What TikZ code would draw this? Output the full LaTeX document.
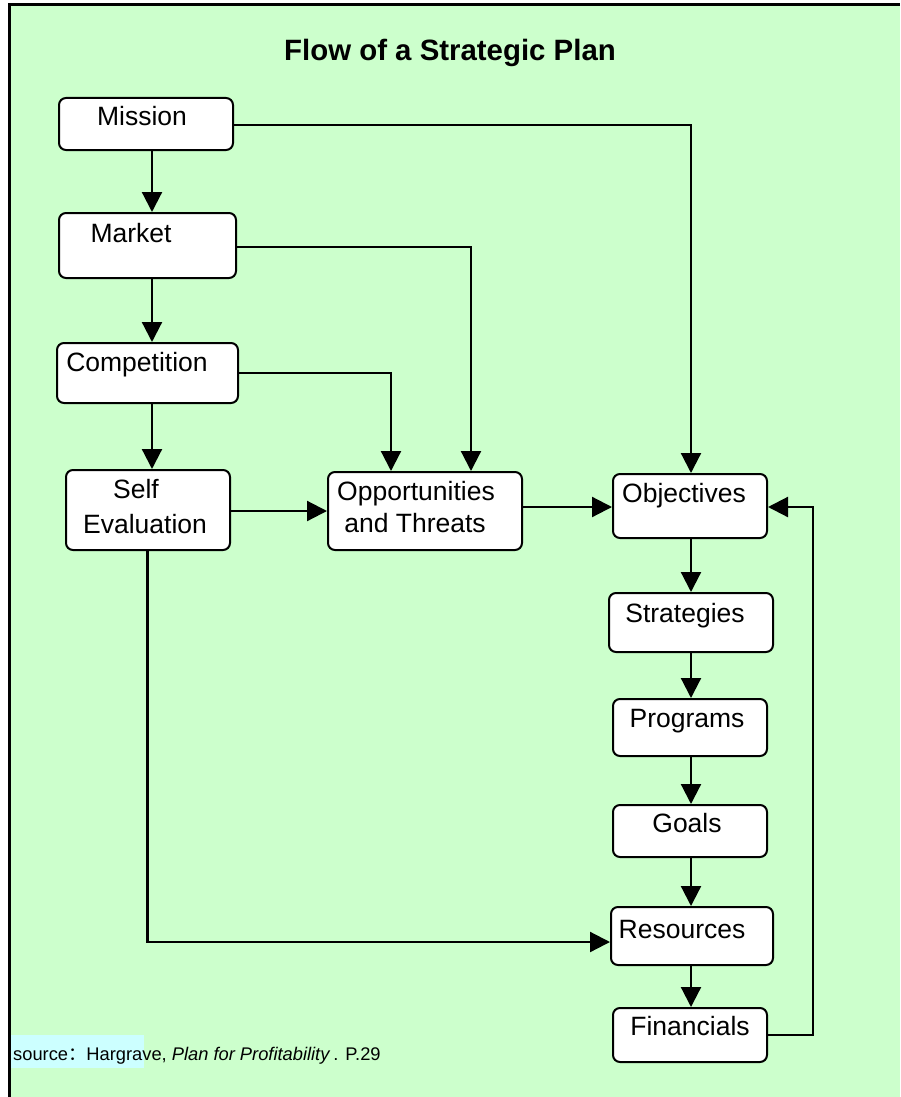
\documentclass[tikz,border=0pt]{standalone}
\usepackage{fontspec}
\setmainfont{Liberation Sans}
\newfontfamily\cjk{Noto Sans CJK SC}
\usetikzlibrary{arrows.meta}
\definecolor{bggreen}{HTML}{CCFFCC}
\definecolor{srccyan}{HTML}{CCFFFF}
\begin{document}
\begin{tikzpicture}[x=1pt,y=-1pt,
  box/.style={draw=black, line width=2pt, fill=white, rounded corners=7pt, rectangle, inner sep=0pt},
  lbl/.style={anchor=base, inner sep=0pt, font=\fontsize{26.5}{31}\selectfont},
  conn/.style={line width=2.2pt, -{Triangle[length=20pt,width=20pt]}}]
\useasboundingbox (0,0) rectangle (900,1097);
% background and frame
\fill[white] (0,0) rectangle (900,1097);
\fill[bggreen] (9.5,4.5) rectangle (900,1097);
\draw[line width=3.5pt] (9.5,1097) -- (9.5,4.5) -- (900,4.5);
% title
\node[anchor=base, inner sep=0pt, font=\bfseries\fontsize{29.4}{35}\selectfont] (title) at (450,61) {Flow of a Strategic Plan};
% column / row coordinates
\coordinate (colL) at (152,0);
\coordinate (colS) at (147.5,0);
\coordinate (colR) at (691,0);
\coordinate (colA) at (391,0);
\coordinate (colB) at (471,0);
\coordinate (colRet) at (813,0);
\coordinate (rM) at (0,125);
\coordinate (rK) at (0,247);
\coordinate (rC) at (0,373);
\coordinate (rSO) at (0,511);
\coordinate (rOO) at (0,507);
\coordinate (rRes) at (0,942);
% boxes
\node[box, minimum width=174pt, minimum height=52pt] (mission) at (146,124) {};
\node[box, minimum width=177pt, minimum height=65pt] (market) at (147.5,245.5) {};
\node[box, minimum width=181pt, minimum height=60pt] (comp) at (147.5,373) {};
\node[box, minimum width=164pt, minimum height=80pt] (self) at (148,510) {};
\node[box, minimum width=194pt, minimum height=78pt] (opp) at (425,511) {};
\node[box, minimum width=154pt, minimum height=64pt] (obj) at (690,506) {};
\node[box, minimum width=164pt, minimum height=59pt] (strat) at (691,622.5) {};
\node[box, minimum width=154pt, minimum height=57pt] (prog) at (690,727.5) {};
\node[box, minimum width=154pt, minimum height=52pt] (goals) at (690,831) {};
\node[box, minimum width=162pt, minimum height=58pt] (res) at (692,936) {};
\node[box, minimum width=154pt, minimum height=54pt] (fin) at (690,1035) {};
% labels
\node[lbl] (tMission) at (142,126) {Mission};
\node[lbl] (tMarket) at (131,242) {Market};
\node[lbl] (tComp) at (137,371) {Competition};
\node[lbl] (tSelf1) at (136,498) {Self};
\node[lbl] (tSelf2) at (145,533) {Evaluation};
\node[lbl] (tOpp1) at (416,500) {Opportunities};
\node[lbl] (tOpp2) at (415,532) {and Threats};
\node[lbl] (tObj) at (684,502) {Objectives};
\node[lbl] (tStrat) at (685,622) {Strategies};
\node[lbl] (tProg) at (687,727) {Programs};
\node[lbl] (tGoals) at (687,832) {Goals};
\node[lbl] (tRes) at (682,938) {Resources};
\node[lbl] (tFin) at (690,1035) {Financials};
% connectors
\draw[conn] (mission.south -| colL) -- (market.north -| colL);
\draw[conn] (market.south -| colL) -- (comp.north -| colL);
\draw[conn] (comp.south -| colL) -- (self.north -| colL);
\draw[conn] (self.east |- rSO) -- (opp.west |- rSO);
\draw[conn] (opp.east |- rOO) -- (obj.west |- rOO);
\draw[conn] (mission.east |- rM) -| (obj.north -| colR);
\draw[conn] (market.east |- rK) -| (opp.north -| colB);
\draw[conn] (comp.east |- rC) -| (opp.north -| colA);
\draw[conn] (obj.south -| colR) -- (strat.north -| colR);
\draw[conn] (strat.south -| colR) -- (prog.north -| colR);
\draw[conn] (prog.south -| colR) -- (goals.north -| colR);
\draw[conn] (goals.south -| colR) -- (res.north -| colR);
\draw[conn] (res.south -| colR) -- (fin.north -| colR);
\draw[conn] (self.south -| colS) |- (res.west |- rRes);
\draw[conn] (fin.east) -| (colRet |- rOO) -- (obj.east |- rOO);
% source
\fill[srccyan] (11,1035) rectangle (144,1068);
\node[anchor=base west, inner sep=0pt, font=\fontsize{18.3}{22}\selectfont] (source) at (13,1060) {source{\cjk ：}Hargrave, \textit{Plan for Profitability}\,. P.29};
\end{tikzpicture}
\end{document}
